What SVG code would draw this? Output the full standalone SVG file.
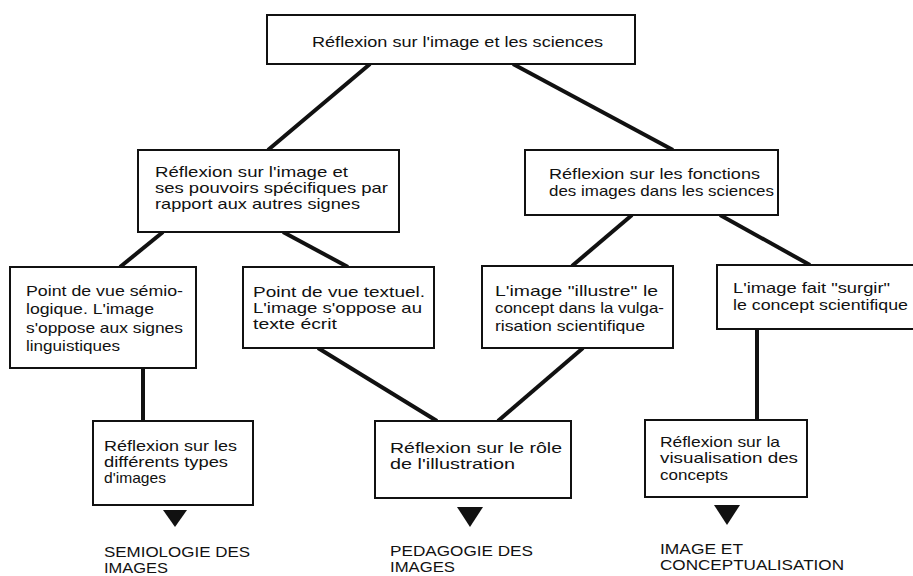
<svg xmlns="http://www.w3.org/2000/svg" width="913" height="576" viewBox="0 0 913 576">
<style>
.box{fill:#fff;stroke:#111;stroke-width:2}
.conn{stroke:#111;stroke-width:4;fill:none}
.tri{fill:#111;stroke:none}
.t{font-family:"Liberation Sans",Arial,sans-serif;font-size:15px;fill:#111}
.c{font-family:"Liberation Sans",Arial,sans-serif;font-size:15px;fill:#111}
</style>
<rect width="913" height="576" fill="#fff"/>
<g id="connectors">
<line class="conn" x1="370" y1="64" x2="268" y2="150"/>
<line class="conn" x1="513" y1="64" x2="673" y2="150"/>
<line class="conn" x1="163" y1="232" x2="120" y2="267"/>
<line class="conn" x1="283" y1="232" x2="348" y2="267"/>
<line class="conn" x1="632" y1="215" x2="572" y2="266"/>
<line class="conn" x1="720" y1="215" x2="810" y2="265"/>
<line class="conn" x1="143" y1="368" x2="143" y2="421"/>
<line class="conn" x1="318" y1="348" x2="437" y2="421"/>
<line class="conn" x1="583" y1="348" x2="498" y2="421"/>
<line class="conn" x1="757" y1="329" x2="757" y2="420"/>
<path class="tri" d="M163,510 L187,510 L175,527 Z"/>
<path class="tri" d="M457,507 L483,507 L470,527 Z"/>
<path class="tri" d="M714,505 L740,505 L727,525 Z"/>
</g>
<g id="n_top">
<rect class="box" x="267" y="15" width="368" height="49"/>
<text class="t" x="312" y="47" textLength="291" lengthAdjust="spacingAndGlyphs">Réflexion sur l'image et les sciences</text>
</g>
<g id="n_pouvoirs">
<rect class="box" x="138" y="150" width="261" height="82"/>
<text class="t" x="155" y="177" textLength="193" lengthAdjust="spacingAndGlyphs">Réflexion sur l'image et</text>
<text class="t" x="155" y="193" textLength="233" lengthAdjust="spacingAndGlyphs">ses pouvoirs spécifiques par</text>
<text class="t" x="155" y="209" textLength="205" lengthAdjust="spacingAndGlyphs">rapport aux autres signes</text>
</g>
<g id="n_fonctions">
<rect class="box" x="525" y="150" width="253" height="65"/>
<text class="t" x="549" y="179" textLength="211" lengthAdjust="spacingAndGlyphs">Réflexion sur les fonctions</text>
<text class="t" x="549" y="196" textLength="225" lengthAdjust="spacingAndGlyphs">des images dans les sciences</text>
</g>
<g id="n_semio">
<rect class="box" x="10" y="267" width="186" height="101"/>
<text class="t" x="26" y="296" textLength="157" lengthAdjust="spacingAndGlyphs">Point de vue sémio-</text>
<text class="t" x="26" y="314" textLength="128" lengthAdjust="spacingAndGlyphs">logique. L'image</text>
<text class="t" x="26" y="333" textLength="157" lengthAdjust="spacingAndGlyphs">s'oppose aux signes</text>
<text class="t" x="26" y="351" textLength="94" lengthAdjust="spacingAndGlyphs">linguistiques</text>
</g>
<g id="n_textuel">
<rect class="box" x="243" y="267" width="191" height="81"/>
<text class="t" x="253" y="297" textLength="172" lengthAdjust="spacingAndGlyphs">Point de vue textuel.</text>
<text class="t" x="253" y="313" textLength="169" lengthAdjust="spacingAndGlyphs">L'image s'oppose au</text>
<text class="t" x="253" y="329" textLength="84" lengthAdjust="spacingAndGlyphs">texte écrit</text>
</g>
<g id="n_illustre">
<rect class="box" x="482" y="266" width="191" height="82"/>
<text class="t" x="495" y="296" textLength="163" lengthAdjust="spacingAndGlyphs">L'image "illustre" le</text>
<text class="t" x="495" y="313" textLength="169" lengthAdjust="spacingAndGlyphs">concept dans la vulga-</text>
<text class="t" x="495" y="331" textLength="150" lengthAdjust="spacingAndGlyphs">risation scientifique</text>
</g>
<g id="n_surgir">
<rect class="box" x="717" y="265" width="200" height="64"/>
<text class="t" x="733" y="293" textLength="157" lengthAdjust="spacingAndGlyphs">L'image fait "surgir"</text>
<text class="t" x="733" y="310" textLength="175" lengthAdjust="spacingAndGlyphs">le concept scientifique</text>
</g>
<g id="n_types">
<rect class="box" x="93" y="421" width="160" height="84"/>
<text class="t" x="104" y="451" textLength="133" lengthAdjust="spacingAndGlyphs">Réflexion sur les</text>
<text class="t" x="104" y="467" textLength="124" lengthAdjust="spacingAndGlyphs">différents types</text>
<text class="t" x="104" y="483" textLength="62" lengthAdjust="spacingAndGlyphs">d'images</text>
</g>
<g id="n_role">
<rect class="box" x="375" y="421" width="196" height="77"/>
<text class="t" x="390" y="453" textLength="172" lengthAdjust="spacingAndGlyphs">Réflexion sur le rôle</text>
<text class="t" x="390" y="469" textLength="125" lengthAdjust="spacingAndGlyphs">de l'illustration</text>
</g>
<g id="n_visu">
<rect class="box" x="645" y="420" width="162" height="77"/>
<text class="t" x="660" y="447" textLength="120" lengthAdjust="spacingAndGlyphs">Réflexion sur la</text>
<text class="t" x="660" y="463" textLength="138" lengthAdjust="spacingAndGlyphs">visualisation des</text>
<text class="t" x="660" y="480" textLength="68" lengthAdjust="spacingAndGlyphs">concepts</text>
</g>
<g id="out_semio">
<text class="c" x="104" y="557" textLength="146" lengthAdjust="spacingAndGlyphs">SEMIOLOGIE DES</text>
<text class="c" x="104" y="573" textLength="64" lengthAdjust="spacingAndGlyphs">IMAGES</text>
</g>
<g id="out_peda">
<text class="c" x="390" y="556" textLength="143" lengthAdjust="spacingAndGlyphs">PEDAGOGIE DES</text>
<text class="c" x="390" y="572" textLength="65" lengthAdjust="spacingAndGlyphs">IMAGES</text>
</g>
<g id="out_concept">
<text class="c" x="660" y="554" textLength="83" lengthAdjust="spacingAndGlyphs">IMAGE ET</text>
<text class="c" x="660" y="570" textLength="184" lengthAdjust="spacingAndGlyphs">CONCEPTUALISATION</text>
</g>
</svg>
